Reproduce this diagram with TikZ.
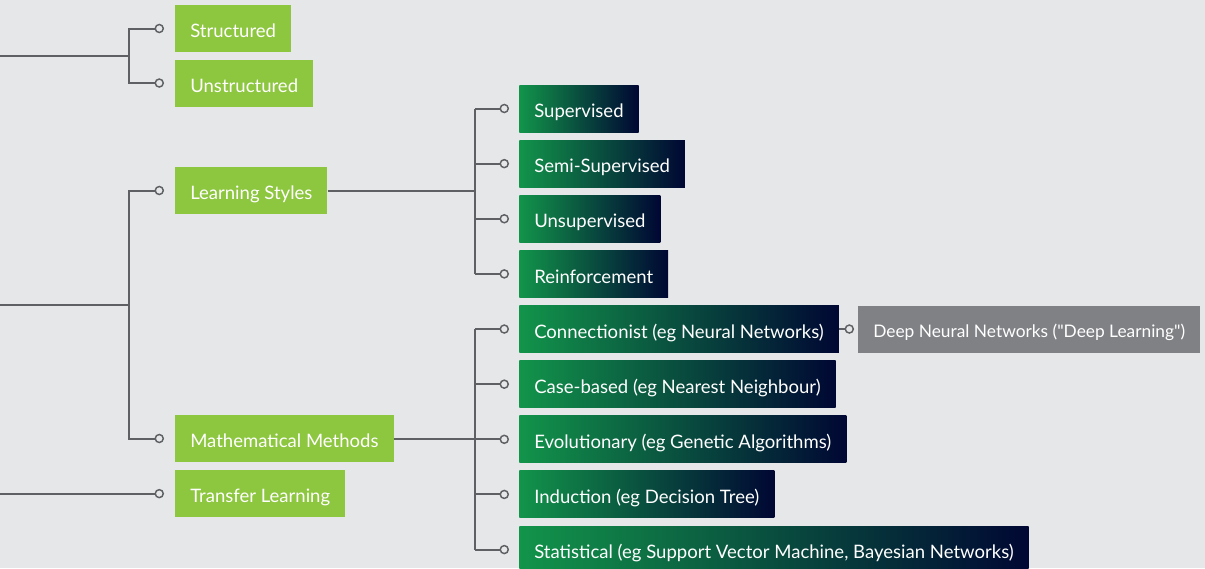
\documentclass[tikz,border=0pt]{standalone}
\usepackage{fontspec}
\setmainfont{Lato}[Ligatures=TeXOff]
\usepackage{xcolor}
\usetikzlibrary{positioning, calc}

\definecolor{bgGray}{HTML}{E6E7E9}
\definecolor{limeGreen}{HTML}{8DC63F}
\definecolor{deepGreen}{HTML}{12944A}
\definecolor{midTeal}{HTML}{04634F}
\definecolor{darkNavy}{HTML}{000733}
\definecolor{lineGray}{HTML}{5F6063}
\definecolor{boxGray}{HTML}{808185}

\tikzset{
  base/.style={minimum height=35.25pt, inner xsep=11.25pt, inner ysep=0pt, text height=13.8pt, text depth=0pt, text=white, font=\fontsize{13.9}{15}\selectfont},
  lime/.style={base, fill=limeGreen},
  grad/.style={base, left color=deepGreen, middle color=midTeal, right color=darkNavy},
  greybox/.style={base, fill=boxGray, font=\fontsize{13}{15}\selectfont, text height=13.4pt},
  knob/.style={circle, draw=lineGray, fill=bgGray, line width=1.1pt, minimum size=6pt, inner sep=0pt},
  wire/.style={draw=lineGray, line width=1.5pt}
}

\begin{document}
\begin{tikzpicture}[x=0.75pt, y=-0.75pt]
    \fill[bgGray] (0,0) rectangle (1205,568);
    \useasboundingbox (0,0) rectangle (1205,568);

    \node[lime, anchor=west] (struct) at (175,28.5) {Structured};
    \node[lime, below=5.25pt of struct.south west, anchor=north west] (unstruct) {Unstructured};
    \node[lime, anchor=west] (lstyles) at (175,190.5) {Learning Styles};
    \node[lime, anchor=west] (mmeth) at (175,438.5) {Mathematical Methods};
    \node[lime, below=5.7pt of mmeth.south west, anchor=north west] (transfer) {Transfer Learning};

    \node[grad, anchor=west] (sup) at (519,108.5) {Supervised};
    \node[grad, below=5.7pt of sup.south west, anchor=north west] (semi) {Semi-Supervised};
    \node[grad, below=5.7pt of semi.south west, anchor=north west] (unsup) {Unsupervised};
    \node[grad, below=5.7pt of unsup.south west, anchor=north west] (reinf) {Reinforcement};
    \node[grad, below=5.7pt of reinf.south west, anchor=north west] (conn) {Connectionist (eg Neural Networks)};
    \node[grad, below=5.7pt of conn.south west, anchor=north west] (casebased) {Case-based (eg Nearest Neighbour)};
    \node[grad, below=5.7pt of casebased.south west, anchor=north west] (evol) {Evolutionary (eg Genetic Algorithms)};
    \node[grad, below=5.7pt of evol.south west, anchor=north west] (induc) {Induction (eg Decision Tree)};
    \node[grad, below=5.7pt of induc.south west, anchor=north west] (stat) {Statistical (eg Support Vector Machine, Bayesian Networks)};

    \node[greybox, right=14.25pt of conn] (deep) {Deep Neural Networks ("Deep Learning")};

    \foreach \n in {struct,unstruct,lstyles,mmeth,transfer}
        \node[knob, left=8.25pt of \n] (k\n) {};
    \foreach \n in {sup,semi,unsup,reinf,conn,casebased,evol,induc,stat}
        \node[knob, left=7.5pt of \n] (k\n) {};
    \node[knob, left=3pt of deep] (kdeep) {};

    \coordinate (inTop) at (0,56);
    \coordinate (jTop) at (129,56);
    \coordinate (inMid) at (0,305);
    \coordinate (jMid) at (129,305);
    \coordinate (inLow) at (ktransfer -| inMid);
    \coordinate (jStyles) at (475,0 |- lstyles);
    \coordinate (jMath) at (475,0 |- mmeth);

    \draw[wire] (inTop) -- (jTop);
    \draw[wire] (kstruct.west) -| (jTop) |- (kunstruct.west);
    \draw[wire] (inMid) -- (jMid);
    \draw[wire] (klstyles.west) -| (jMid) |- (kmmeth.west);
    \draw[wire] (inLow) -- (ktransfer.west);

    \draw[wire] (lstyles.east) -- (jStyles);
    \draw[wire] (ksup.west -| jStyles) -- (kreinf.west -| jStyles);
    \foreach \k in {ksup,ksemi,kunsup,kreinf}
        \draw[wire] (\k.west) -- (\k.west -| jStyles);

    \draw[wire] (mmeth.east) -- (jMath);
    \draw[wire] (kconn.west -| jMath) -- (kstat.west -| jMath);
    \foreach \k in {kconn,kcasebased,kevol,kinduc,kstat}
        \draw[wire] (\k.west) -- (\k.west -| jMath);

    \draw[wire] (conn.east) -- (kdeep.west);
\end{tikzpicture}
\end{document}
